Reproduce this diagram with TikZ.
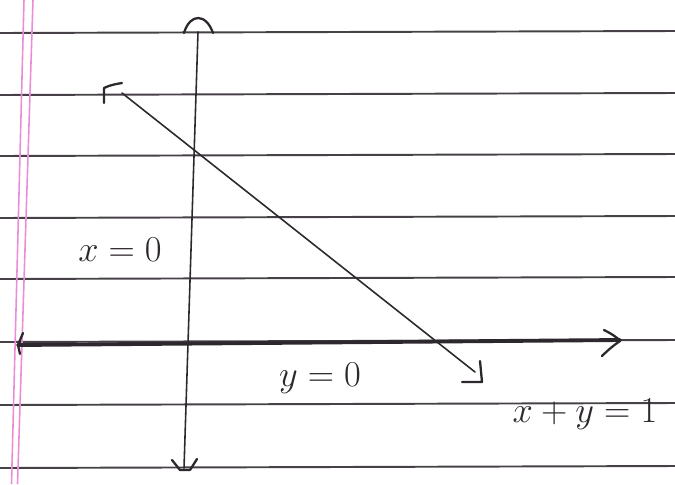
\documentclass[tikz,border=0pt]{standalone}
\usepackage{tikz}
\usepackage{xcolor}
\usetikzlibrary{positioning,calc}

\definecolor{ink}{RGB}{45,40,45}
\definecolor{ruleline}{RGB}{70,65,70}
\definecolor{margin}{RGB}{235,140,215}

\begin{document}
\begin{tikzpicture}[x=0.02cm,y=-0.02cm,
  rule/.style={ruleline, line width=1.1pt},
  marginline/.style={margin, line width=0.9pt},
  axis/.style={ink, line width=1.3pt, line cap=round, line join=round},
  hand/.style={ink, font=\fontsize{20}{24}\selectfont}]
\useasboundingbox[fill=white] (0,0) rectangle (675,484);

% ruled paper
\foreach \y in {33,95,156,218,279,342,405,468} {
  \draw[rule] (0,\y) -- (675,\y-2);
}
\draw[marginline] (24,0) -- (11.5,484);
\draw[marginline] (33,0) -- (17.5,484);

% axes
\coordinate (ytop) at (198,32);
\coordinate (ybot) at (184,468);
\coordinate (xleft) at (18,345);
\coordinate (xright) at (620,340);
\draw[axis, line width=0.9pt] (ytop) -- (ybot);
\draw[axis, line width=2.2pt] (xleft) -- (xright);
\draw[axis] (184,33) .. controls (190,13) and (206,13) .. (213,33);
\draw[axis] (172,460) -- (180,470) -- (190,470) -- (197,459);
\draw[axis] (604,330) .. controls (612,334) and (618,338) .. (620,341) .. controls (614,345) and (608,350) .. (602,356);
\draw[axis] (23,333) -- (18,345) -- (20,354);

% x + y = 1
\coordinate (p) at (122,93);
\coordinate (q) at (475,372);
\draw[axis, line width=0.9pt] (p) -- (q);
\draw[axis] (104,103) -- (104,88) .. controls (110,85) and (116,84) .. (122,83);
\draw[axis] (480,361) -- (482,382) -- (462,382);

\node[hand] (lx) at (120,250) {$x=0$};
\node[hand] (ly) at (320,378) {$y=0$};
\node[hand] (ll) at (585,414) {$x+y=1$};
\end{tikzpicture}
\end{document}
